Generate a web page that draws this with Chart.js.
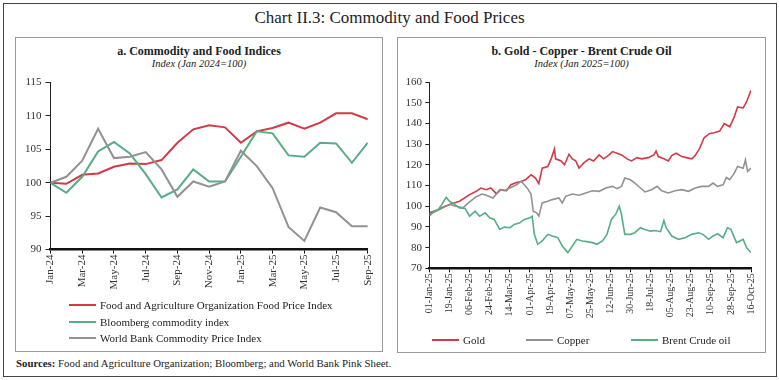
<!DOCTYPE html>
<html><head><meta charset="utf-8">
<script src="https://cdn.jsdelivr.net/npm/chart.js@4.4.0/dist/chart.umd.min.js"></script>
<style>
body{margin:0;background:#fff;}
#wrap{position:relative;width:779px;height:380px;font-family:"Liberation Serif",serif;color:#222;overflow:hidden;}
.abs{position:absolute;}
.panel{position:absolute;box-sizing:border-box;border:1.5px solid #9a9a9a;}
.ptitle{position:absolute;text-align:center;font-weight:bold;font-size:12px;white-space:nowrap;}
.psub{position:absolute;text-align:center;font-style:italic;font-size:10.5px;white-space:nowrap;}
.leg{position:absolute;font-size:11px;white-space:nowrap;color:#222;}
.leg span.ln{display:inline-block;width:27px;height:2px;vertical-align:middle;margin-right:4px;position:relative;top:-1px;}
canvas{position:absolute;}
</style></head><body>
<div id="wrap">
  <div class="abs" style="left:3px;top:3px;width:774px;height:374px;box-sizing:border-box;border:1px solid #444;"></div>
  <div class="abs" style="left:0;top:8px;width:779px;text-align:center;font-size:17px;">Chart II.3: Commodity and Food Prices</div>

  <div class="panel" style="left:15px;top:37px;width:368px;height:315px;"></div>
  <div class="ptitle" style="left:15px;top:44px;width:368px;">a. Commodity and Food Indices</div>
  <div class="psub" style="left:15px;top:58px;width:368px;">Index (Jan 2024=100)</div>
  <canvas id="chartA" width="366" height="230" style="left:16px;top:72px;"></canvas>
  <div id="legA"></div>

  <div class="panel" style="left:397px;top:37px;width:369px;height:316px;"></div>
  <div class="ptitle" style="left:397px;top:44px;width:369px;">b. Gold - Copper - Brent Crude Oil</div>
  <div class="psub" style="left:397px;top:58px;width:369px;">Index (Jan 2025=100)</div>
  <canvas id="chartB" width="366" height="255" style="left:398px;top:72px;"></canvas>
  <div id="legB"></div>

  <div class="abs" style="left:16px;top:357px;font-size:10.8px;white-space:nowrap;"><b>Sources:</b> Food and Agriculture Organization; Bloomberg; and World Bank Pink Sheet.</div>
</div>
<script>
// ---------- Panel a data (monthly) ----------
const monthLabels = ['Jan-24','Feb-24','Mar-24','Apr-24','May-24','Jun-24','Jul-24','Aug-24','Sep-24','Oct-24','Nov-24','Dec-24','Jan-25','Feb-25','Mar-25','Apr-25','May-25','Jun-25','Jul-25','Aug-25','Sep-25'];
const faoFood   = [100,99.85,101.2,101.4,102.4,102.9,102.8,103.4,106.0,108.0,108.6,108.3,106.0,107.7,108.2,109.0,108.1,109.0,110.4,110.4,109.5];
const bloomberg = [100,98.5,100.9,104.7,106.1,104.4,101.3,97.8,99.0,102.0,100.2,100.2,103.9,107.7,107.4,104.1,103.9,106.0,105.9,103.0,106.0];
const worldBank = [100,100.9,103.3,108.1,103.7,103.9,104.6,102.0,97.9,100.2,99.4,100.2,104.8,102.5,99.2,93.4,91.3,96.3,95.6,93.5,93.5];
const namesA = ['Food and Agriculture Organization Food Price Index','Bloomberg commodity index','World Bank Commodity Price Index'];

// ---------- Panel b data (daily, day offset from 01-Jan-25) ----------
const dayTickLabels = ['01-Jan-25','19-Jan-25','06-Feb-25','24-Feb-25','14-Mar-25','01-Apr-25','19-Apr-25','07-May-25','25-May-25','12-Jun-25','30-Jun-25','18-Jul-25','05-Aug-25','23-Aug-25','10-Sep-25','28-Sep-25','16-Oct-25'];
const goldDays = [0,6,12,18,27,36,42,46,51,55,60,64,69,73,78,82,86,91,95,98,101,106,109,112,113,118,121,125,128,131,134,138,143,147,152,156,161,164,168,172,177,181,186,190,196,201,203,205,210,214,217,221,226,230,235,238,242,246,251,255,260,264,269,273,276,281,284,288];
const goldValues = [96.8,97.9,99.5,100.8,102.4,105.6,107.2,108.8,108,108.8,106,108,107.5,110.4,111.5,112,112.8,115.2,113.6,110.9,118.4,119.2,122.9,127.7,122.9,121.9,120,125.1,122.9,121.9,118.4,120.8,122.9,121.9,124.8,122.9,124.8,126.4,125.6,124.8,122.9,121.9,123.5,122.9,123.5,124.8,126.7,124,122.9,121.9,124.5,125.6,124,123.5,122.9,124.5,128,133.1,135.2,135.5,136.3,140,138.4,143.2,148,147.5,150.4,156];
const copperDays = [0,6,12,18,24,30,35,41,47,51,57,63,67,72,78,82,85,88,91,93,96,98,101,106,110,116,119,122,128,134,140,146,152,158,164,168,172,175,180,184,189,193,199,204,208,214,220,226,232,238,244,250,254,258,263,266,269,273,276,281,283,285,288];
const copperValues = [96,97.6,99.2,100.8,100,99.2,101.6,104.3,105.9,105.3,104,108,107.5,108.8,110.4,112,110.4,108.5,105.9,97.6,96.8,95.2,101.6,102.4,103.2,104,101.6,104.8,105.9,105.3,106.4,107.5,107.2,108.8,109.6,108.5,109.6,113.6,112.8,111.2,108.8,106.9,108,109.6,107.5,106.4,107.5,108,107.2,108.8,109.6,109.6,111.2,109.6,110.4,113.9,112.8,116,119.2,118.4,122.4,116.8,118.4];
const brentDays = [0,4,8,11,15,18,23,27,32,36,41,45,50,54,58,63,67,72,76,81,85,90,92,94,97,101,106,110,115,119,124,128,132,137,141,146,150,155,159,163,167,170,172,175,180,184,189,193,198,202,207,210,212,217,223,229,235,241,245,250,254,258,263,267,270,275,278,281,284,288];
const brentValues = [95.2,97.6,98.4,100.8,104.3,102.4,100.8,99.2,98.9,95.2,97.6,95.2,96.8,94.4,93.6,88.8,89.9,89.6,91.2,92,93.6,94.4,95.2,86.4,81.6,83.2,86.4,85.6,84.8,80.8,77.6,80.8,84,83.2,82.9,82.4,81.6,83.2,86.4,93.6,96.3,100,96,86.4,86.4,87.2,89.6,88.8,88,88.3,87.7,93.1,89.6,85.6,84,84.8,86.4,87.2,86.4,84,85.6,86.7,84.8,89.6,88.8,82.4,83.2,84,80,77.6];
const namesB = ['Gold','Copper','Brent Crude oil'];

const RED = '#d23a45', GREEN = '#55ae86', GRAY = '#929292';
const FONT = '"Liberation Serif", serif';

function xy(xs, ys){ return ys.map((v,i)=>({x:xs[i], y:v})); }
const idx = monthLabels.map((_,i)=>i);

// ---------- Chart A ----------
const chartA = new Chart(document.getElementById('chartA'), {
  type: 'line',
  data: { datasets: [
    {label:namesA[0], data:xy(idx,faoFood), borderColor:RED, order:3},
    {label:namesA[1], data:xy(idx,bloomberg), borderColor:GREEN, order:2},
    {label:namesA[2], data:xy(idx,worldBank), borderColor:GRAY, order:1}
  ].map(d=>Object.assign(d,{borderWidth:2, pointRadius:0, tension:0, fill:false}))},
  options: {
    responsive:false, animation:false, devicePixelRatio:1,
    layout:{padding:{left:0, top:10.5, right:7.2, bottom:0}},
    plugins:{legend:{display:false}, tooltip:{enabled:false}},
    scales:{
      x:{type:'linear', min:0, max:20,
         afterFit:(s)=>{s.height=52.4;},
         ticks:{stepSize:2, autoSkip:false, maxRotation:90, minRotation:90, padding:1, color:'#333',
                font:{family:FONT, size:11}, callback:(v)=>monthLabels[v]},
         grid:{display:true, drawOnChartArea:false, drawTicks:true, tickLength:4, color:'#111', lineWidth:1},
         border:{display:true, color:'#111', width:2.5}},
      y:{min:90, max:115,
         afterFit:(s)=>{s.width=34.5;},
         ticks:{stepSize:5, padding:4, color:'#333', font:{family:FONT, size:11}},
         grid:{display:true, drawOnChartArea:false, drawTicks:true, tickLength:5, color:'#222', lineWidth:1},
         border:{display:true, color:'#222', width:1}}
    }
  }
});

// ---------- Chart B ----------
const chartB = new Chart(document.getElementById('chartB'), {
  type: 'line',
  data: { datasets: [
    {label:namesB[0], data:xy(goldDays,goldValues), borderColor:RED, order:3},
    {label:namesB[1], data:xy(copperDays,copperValues), borderColor:GRAY, order:2},
    {label:namesB[2], data:xy(brentDays,brentValues), borderColor:GREEN, order:1}
  ].map(d=>Object.assign(d,{borderWidth:1.6, pointRadius:0, tension:0, fill:false}))},
  options: {
    responsive:false, animation:false, devicePixelRatio:1,
    layout:{padding:{left:0, top:8, right:9.5, bottom:0}},
    plugins:{legend:{display:false}, tooltip:{enabled:false}},
    scales:{
      x:{type:'linear', min:0, max:288,
         afterFit:(s)=>{s.height=58.7;},
         ticks:{stepSize:18, autoSkip:false, maxRotation:90, minRotation:90, padding:1, color:'#333',
                font:{family:FONT, size:10}, callback:(v)=>dayTickLabels[Math.round(v/18)]},
         grid:{display:true, drawOnChartArea:false, drawTicks:true, tickLength:4, color:'#111', lineWidth:1},
         border:{display:true, color:'#111', width:2.5}},
      y:{min:70, max:160,
         afterFit:(s)=>{s.width=31.4;},
         ticks:{stepSize:10, padding:3.5, color:'#333', font:{family:FONT, size:11}},
         grid:{display:true, drawOnChartArea:false, drawTicks:true, tickLength:4, color:'#222', lineWidth:1},
         border:{display:true, color:'#222', width:1}}
    }
  }
});

// ---------- HTML legends ----------
const legA = document.getElementById('legA');
const rowsA = [299, 316, 332];
chartA.data.datasets.forEach((d,i)=>{
  const el = document.createElement('div');
  el.className = 'leg';
  el.style.left = '69px'; el.style.top = rowsA[i] + 'px';
  el.innerHTML = '<span class="ln" style="background:'+d.borderColor+'"></span>' + d.label;
  legA.appendChild(el);
});
const legB = document.getElementById('legB');
const colsB = [432, 526, 631];
chartB.data.datasets.forEach((d,i)=>{
  const el = document.createElement('div');
  el.className = 'leg';
  el.style.left = colsB[i] + 'px'; el.style.top = '334px';
  el.innerHTML = '<span class="ln" style="background:'+d.borderColor+'"></span>' + d.label;
  legB.appendChild(el);
});
</script>
</body></html>
